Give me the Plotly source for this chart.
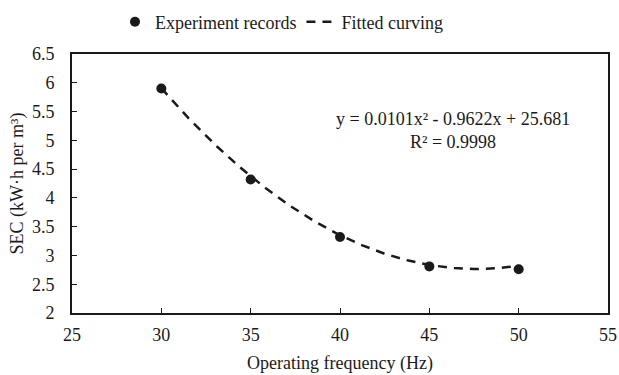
import numpy as np
import plotly.graph_objects as go

freq = [30, 35, 40, 45, 50]
sec = [5.9, 4.32, 3.32, 2.81, 2.76]
fit_coef = [0.0101, -0.9622, 25.681]  # from the equation shown on the chart
x_ticks = [25, 30, 35, 40, 45, 50, 55]
y_ticks = [2, 2.5, 3, 3.5, 4, 4.5, 5, 5.5, 6, 6.5]

xf = np.linspace(30, 50, 200)
yf = np.polyval(fit_coef, xf)

FONT = "Liberation Serif, Times New Roman, serif"
INK = "#1a1a1a"

W, H = 619, 375

fig = go.Figure()
fig.add_trace(go.Scatter(x=freq, y=sec, mode="markers", name="Experiment records",
                         marker=dict(size=10, color=INK)))
fig.add_trace(go.Scatter(x=xf, y=yf, mode="lines", name="Fitted curving",
                         line=dict(color=INK, width=2.5, dash="9px,7px")))

fig.add_annotation(x=0.711, y=0.703, xref="paper", yref="paper",
                   xanchor="center", yanchor="middle",
                   text="y = 0.0101x² - 0.9622x + 25.681<br>R² = 0.9998",
                   showarrow=False, align="center",
                   font=dict(family=FONT, size=18, color=INK))

fig.update_layout(
    width=W, height=H,
    margin=dict(l=72, r=11, t=54, b=62, autoexpand=False),
    paper_bgcolor="white", plot_bgcolor="white",
    font=dict(family=FONT, size=18, color=INK),
    showlegend=True,
    legend=dict(orientation="h", xref="container", yref="container",
                x=115 / W, xanchor="left", y=1 - 22 / H, yanchor="middle",
                font=dict(family=FONT, size=18, color=INK)),
    xaxis=dict(range=[25, 55], tickvals=x_ticks, ticks="inside", ticklen=5,
               tickcolor=INK, showline=True, linecolor=INK, linewidth=1.8, mirror=True,
               showgrid=False, zeroline=False, ticklabelstandoff=4,
               ticklabeloverflow="allow",
               title=dict(text="Operating frequency (Hz)", font=dict(size=18), standoff=13)),
    yaxis=dict(range=[2, 6.5], tickvals=y_ticks, ticks="inside", ticklen=5,
               tickcolor=INK, showline=True, linecolor=INK, linewidth=1.8, mirror=True,
               showgrid=False, zeroline=False, ticklabelstandoff=12,
               title=dict(text="SEC (kW·h per m³)", font=dict(size=18), standoff=4)),
)

fig.write_html("out.html", config={"displayModeBar": False},
               post_script="document.body.style.margin='0';")
